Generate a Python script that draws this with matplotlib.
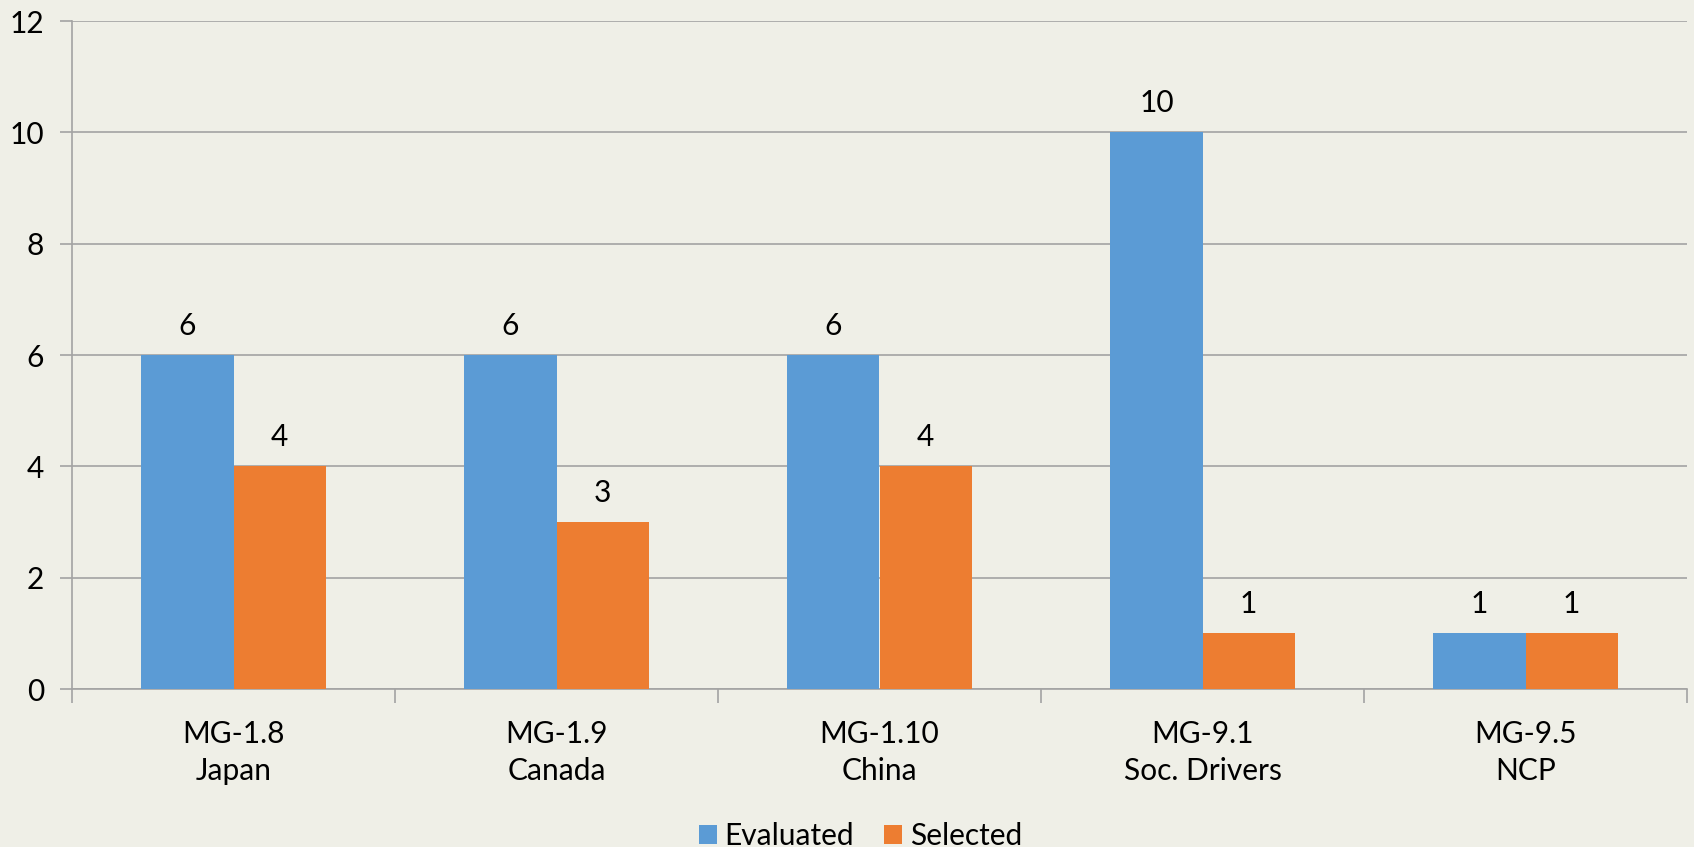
import matplotlib
matplotlib.use("Agg")
import matplotlib.pyplot as plt
import numpy as np

categories = ["MG-1.8\nJapan", "MG-1.9\nCanada", "MG-1.10\nChina", "MG-9.1\nSoc. Drivers", "MG-9.5\nNCP"]
evaluated = [6, 6, 6, 10, 1]
selected = [4, 3, 4, 1, 1]
series_names = ["Evaluated", "Selected"]
yticks = [0, 2, 4, 6, 8, 10, 12]

bg = "#EFEFE7"
blue = "#5B9BD5"
orange = "#ED7D31"
grid_c = "#A3A3A3"

plt.rcParams['font.family'] = ['Lato', 'DejaVu Sans']
FS = 21.5

W, H = 1694, 847
fig = plt.figure(figsize=(W/100, H/100), dpi=100, facecolor=bg)
ax = fig.add_axes([72/W, 1-689/H, (1687-72)/W, (689-21)/H], facecolor=bg)

x = np.arange(len(categories))
bw = 0.285
b1 = ax.bar(x - bw/2, evaluated, bw, color=blue, label=series_names[0], zorder=3)
b2 = ax.bar(x + bw/2, selected, bw, color=orange, label=series_names[1], zorder=3)

for bars, vals in ((b1, evaluated), (b2, selected)):
    for r, v in zip(bars, vals):
        ax.annotate(str(v), (r.get_x() + r.get_width()/2, v), xytext=(0, 14.5),
                    textcoords="offset points", ha="center", va="baseline", fontsize=FS, color="black")

ax.set_xlim(-0.5, len(categories) - 0.5)
ax.set_ylim(0, 12)
ax.set_yticks(yticks)
ax.set_yticklabels([str(t) for t in yticks], fontsize=FS)
ax.yaxis.grid(True, color=grid_c, linewidth=1.2, zorder=0)
ax.set_axisbelow(True)

ax.set_xticks(x)
ax.set_xticklabels(categories, fontsize=FS, linespacing=1.4)
ax.tick_params(axis='x', length=0, pad=22)
ax.set_xticks(np.arange(-0.5, len(categories)), minor=True)
ax.tick_params(axis='x', which='minor', length=10, color=grid_c, width=1.2, direction='out')
ax.tick_params(axis='y', length=9, color=grid_c, width=1.2, pad=11)

for s in ["top", "right"]:
    ax.spines[s].set_visible(False)
for s in ["left", "bottom"]:
    ax.spines[s].set_color(grid_c)
    ax.spines[s].set_linewidth(1.2)

leg = fig.legend(loc="lower center", bbox_to_anchor=(0.508, -0.035), ncol=2, frameon=False,
                 fontsize=FS, handlelength=0.6, handleheight=0.6, handletextpad=0.25,
                 columnspacing=1.0)

fig.savefig("out.png", dpi=100, facecolor=bg)
